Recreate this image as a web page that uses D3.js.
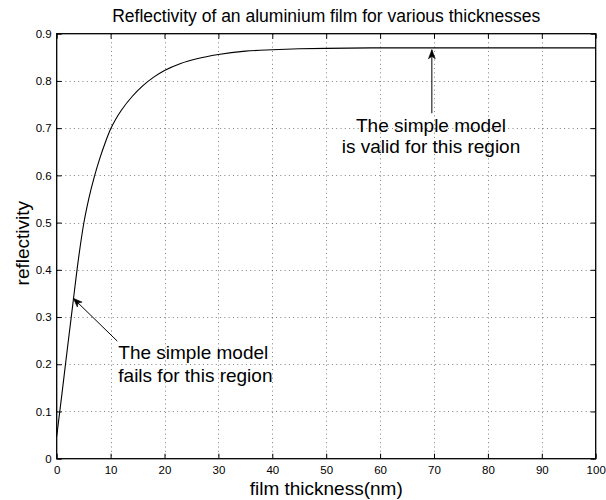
<!DOCTYPE html>
<html>
<head>
<meta charset="utf-8">
<script src="https://cdn.jsdelivr.net/npm/d3@7"></script>
<style>
  html, body { margin: 0; padding: 0; background: #fff; }
  svg { display: block; font-family: "Liberation Sans", Arial, Helvetica, sans-serif; }
</style>
</head>
<body>
<svg id="chart" width="606" height="500"></svg>
<script>
// ---- data ----
const thickness = [0,1,2,3,4,5,6,7,8,9,10,11,12,14,16,18,20,23,26,30,35,40,45,50,60,70,80,90,100];
const reflectivity = [0.047,0.14,0.235,0.328,0.42,0.497,0.553,0.598,0.636,0.669,0.698,0.720,0.738,0.767,0.790,0.808,0.822,0.837,0.847,0.856,0.863,0.866,0.868,0.869,0.870,0.870,0.870,0.870,0.870];
const xTicks = [0,10,20,30,40,50,60,70,80,90,100];
const yTicks = [0,0.1,0.2,0.3,0.4,0.5,0.6,0.7,0.8,0.9];
const yTickLabels = ["0","0.1","0.2","0.3","0.4","0.5","0.6","0.7","0.8","0.9"];
const titleText = "Reflectivity of an aluminium film for various thicknesses";
const xLabelText = "film thickness(nm)";
const yLabelText = "reflectivity";
// annotations: arrow tail (x,y) -> tip (x,y) in data units, and text lines
const noteValid = { lines: ["The simple model", "is valid for this region"], tail: [69.6, 0.7315], tip: [69.6, 0.866] };
const noteFails = { lines: ["The simple model", "fails for this region"], tail: [11.24, 0.249], tip: [3.08, 0.3397] };

// ---- layout ----
const svg = d3.select("#chart");
const L = 56.7, R = 595.7, T = 33.7, B = 458.7;
const x = d3.scaleLinear().domain([0, 100]).range([L, R]);
const y = d3.scaleLinear().domain([0, 0.9]).range([B, T]);
const tickFont = 11.5, bigFont = 19, titleFont = 17.5;

// grid
const grid = svg.append("g").attr("stroke", "#000").attr("stroke-opacity", 0.5)
  .attr("stroke-width", 1).attr("stroke-dasharray", "1,3.3").attr("fill", "none");
grid.selectAll(".gx").data(xTicks.slice(1, -1)).join("line")
  .attr("x1", d => Math.round(x(d)) + 0.5).attr("x2", d => Math.round(x(d)) + 0.5)
  .attr("y1", T).attr("y2", B);
grid.selectAll(".gy").data(yTicks.slice(1, -1)).join("line")
  .attr("y1", d => Math.round(y(d)) + 0.5).attr("y2", d => Math.round(y(d)) + 0.5)
  .attr("x1", L).attr("x2", R);

// axes (inward ticks on all 4 sides)
const tl = 5;
const axB = svg.append("g").attr("transform", `translate(0,${B})`)
  .call(d3.axisBottom(x).tickValues(xTicks).tickSizeInner(-tl).tickSizeOuter(0).tickPadding(9).tickFormat(d3.format("d")));
const axT = svg.append("g").attr("transform", `translate(0,${T})`)
  .call(d3.axisTop(x).tickValues(xTicks).tickSizeInner(-tl).tickSizeOuter(0).tickFormat(""));
const axL = svg.append("g").attr("transform", `translate(${L},0)`)
  .call(d3.axisLeft(y).tickValues(yTicks).tickSizeInner(-tl).tickSizeOuter(0).tickPadding(9).tickFormat((d, i) => yTickLabels[i]));
const axR = svg.append("g").attr("transform", `translate(${R},0)`)
  .call(d3.axisRight(y).tickValues(yTicks).tickSizeInner(-tl).tickSizeOuter(0).tickFormat(""));
[axB, axT, axL, axR].forEach(a => {
  a.select(".domain").remove();
  a.selectAll("line").attr("stroke", "#000").attr("stroke-width", 1);
  a.selectAll("text").attr("fill", "#000").style("font-size", tickFont + "px")
    .style("font-family", '"Liberation Sans", Arial, sans-serif');
});
axL.selectAll("text").attr("x", -5);
axB.selectAll("text").attr("y", 7);

// box
svg.append("rect").attr("x", L).attr("y", T).attr("width", R - L).attr("height", B - T)
  .attr("fill", "none").attr("stroke", "#000").attr("stroke-width", 1.3);

// curve
const line = d3.line().x((d, i) => x(thickness[i])).y(d => y(d)).curve(d3.curveMonotoneX);
svg.append("path").datum(reflectivity).attr("d", line)
  .attr("fill", "none").attr("stroke", "#000").attr("stroke-width", 1.1);

// arrows
function arrow(note) {
  const x1 = x(note.tail[0]), y1 = y(note.tail[1]), x2 = x(note.tip[0]), y2 = y(note.tip[1]);
  svg.append("line").attr("x1", x1).attr("y1", y1).attr("x2", x2).attr("y2", y2)
    .attr("stroke", "#000").attr("stroke-width", 1);
  const ang = Math.atan2(y2 - y1, x2 - x1) * 180 / Math.PI;
  svg.append("path").attr("d", "M0,0 L-9,-3.4 L-6.5,0 L-9,3.4 Z")
    .attr("transform", `translate(${x2},${y2}) rotate(${ang})`)
    .attr("fill", "#000").attr("stroke", "#000").attr("stroke-width", 0.6).attr("stroke-linejoin", "miter");
}
arrow(noteValid);
arrow(noteFails);

// annotation texts
const tv = svg.append("text").attr("text-anchor", "middle").style("font-size", bigFont + "px").attr("fill", "#000");
noteValid.lines.forEach((s, i) => tv.append("tspan").attr("x", 431).attr("y", 131.7 + i * 21.7).text(s));
const tf = svg.append("text").attr("text-anchor", "start").style("font-size", bigFont + "px").attr("fill", "#000");
noteFails.lines.forEach((s, i) => tf.append("tspan").attr("x", 118.3).attr("y", 359.3 + i * 22.3).text(s));

// title and labels
svg.append("text").attr("x", (L + R) / 2).attr("y", 22).attr("text-anchor", "middle")
  .style("font-size", titleFont + "px").text(titleText);
svg.append("text").attr("x", (L + R) / 2).attr("y", 495).attr("text-anchor", "middle")
  .style("font-size", bigFont + "px").text(xLabelText);
svg.append("text").attr("transform", `translate(29,${(T + B) / 2 - 3}) rotate(-90)`).attr("text-anchor", "middle")
  .style("font-size", bigFont + "px").text(yLabelText);
</script>
</body>
</html>
